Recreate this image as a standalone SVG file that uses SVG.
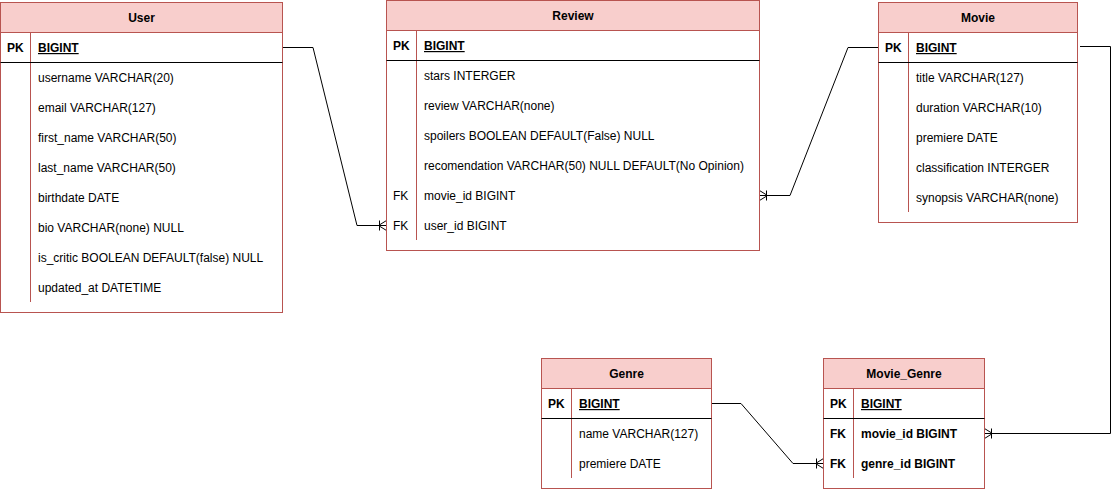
<svg xmlns="http://www.w3.org/2000/svg" width="1119" height="489" viewBox="0 0 1119 489">
<style>
.box{fill:#ffffff;stroke:#b85450;stroke-width:1}
.hdr{fill:#f8cecc;stroke:#b85450;stroke-width:1}
.div{stroke:#b85450;stroke-width:1;fill:none}
.sep{stroke:#000000;stroke-width:1;fill:none}
text{font-family:"Liberation Sans",Arial,sans-serif;font-size:12px;fill:#000000}
.t{font-weight:bold;text-anchor:middle}
.b{font-weight:bold}
.u{font-weight:bold;text-decoration:underline}
.conn{fill:none;stroke:#000000;stroke-width:1}
</style>
<defs>
<marker id="many" markerUnits="userSpaceOnUse" markerWidth="20" markerHeight="20" refX="10" refY="10" orient="auto" viewBox="0 0 20 20" overflow="visible">
<path d="M2,10 L10,5 M2,10 L10,15 M2,10 L10,10 M3,5 L3,15" fill="none" stroke="#000" stroke-width="1"/>
</marker>
</defs>
<rect width="1119" height="489" fill="#ffffff"/>
<g id="connectors">
<path class="conn" d="M282.5,47.5 L313,47.5 L357,225.5 L386.5,225.5" marker-end="url(#many)"/>
<path class="conn" d="M878.5,47.5 L848,47.5 L790,195.5 L759.5,195.5" marker-end="url(#many)"/>
<path class="conn" d="M1080,46.5 L1110.5,46.5 L1110.5,433.5 L984.5,433.5" marker-end="url(#many)"/>
<path class="conn" d="M711.5,403.5 L741,403.5 L793,463.5 L823.5,463.5" marker-end="url(#many)"/>
</g>
<g id="user">
<rect class="box" x="0.5" y="2.5" width="282" height="310"/>
<rect class="hdr" x="0.5" y="2.5" width="282" height="30"/>
<line class="div" x1="30.5" y1="32.5" x2="30.5" y2="302"/>
<line class="sep" x1="0.5" y1="62.5" x2="282.5" y2="62.5"/>
<text class="t" x="141.5" y="22">User</text>
<text class="b" x="7" y="52">PK</text>
<text class="u" x="38" y="52">BIGINT</text>
<text x="38" y="82">username VARCHAR(20)</text>
<text x="38" y="112">email VARCHAR(127)</text>
<text x="38" y="142">first_name VARCHAR(50)</text>
<text x="38" y="172">last_name VARCHAR(50)</text>
<text x="38" y="202">birthdate DATE</text>
<text x="38" y="232">bio VARCHAR(none) NULL</text>
<text x="38" y="262">is_critic BOOLEAN DEFAULT(false) NULL</text>
<text x="38" y="292">updated_at DATETIME</text>
</g>
<g id="review">
<rect class="box" x="386.5" y="0.5" width="373" height="250"/>
<rect class="hdr" x="386.5" y="0.5" width="373" height="30"/>
<line class="div" x1="416.5" y1="30.5" x2="416.5" y2="240"/>
<line class="sep" x1="386.5" y1="60.5" x2="759.5" y2="60.5"/>
<text class="t" x="573" y="20">Review</text>
<text class="b" x="393" y="50">PK</text>
<text class="u" x="424" y="50">BIGINT</text>
<text x="424" y="80">stars INTERGER</text>
<text x="424" y="110">review VARCHAR(none)</text>
<text x="424" y="140">spoilers BOOLEAN DEFAULT(False) NULL</text>
<text x="424" y="170">recomendation VARCHAR(50) NULL DEFAULT(No Opinion)</text>
<text x="393" y="200">FK</text>
<text x="424" y="200">movie_id BIGINT</text>
<text x="393" y="230">FK</text>
<text x="424" y="230">user_id BIGINT</text>
</g>
<g id="movie">
<rect class="box" x="878.5" y="2.5" width="199" height="220"/>
<rect class="hdr" x="878.5" y="2.5" width="199" height="30"/>
<line class="div" x1="908.5" y1="32.5" x2="908.5" y2="212"/>
<line class="sep" x1="878.5" y1="62.5" x2="1077.5" y2="62.5"/>
<text class="t" x="978" y="22">Movie</text>
<text class="b" x="885" y="52">PK</text>
<text class="u" x="916" y="52">BIGINT</text>
<text x="916" y="82">title VARCHAR(127)</text>
<text x="916" y="112">duration VARCHAR(10)</text>
<text x="916" y="142">premiere DATE</text>
<text x="916" y="172">classification INTERGER</text>
<text x="916" y="202">synopsis VARCHAR(none)</text>
</g>
<g id="genre">
<rect class="box" x="541.5" y="358.5" width="170" height="130"/>
<rect class="hdr" x="541.5" y="358.5" width="170" height="30"/>
<line class="div" x1="571.5" y1="388.5" x2="571.5" y2="478"/>
<line class="sep" x1="541.5" y1="418.5" x2="711.5" y2="418.5"/>
<text class="t" x="626.5" y="378">Genre</text>
<text class="b" x="548" y="408">PK</text>
<text class="u" x="579" y="408">BIGINT</text>
<text x="579" y="438">name VARCHAR(127)</text>
<text x="579" y="468">premiere DATE</text>
</g>
<g id="movie_genre">
<rect class="box" x="823.5" y="358.5" width="161" height="130"/>
<rect class="hdr" x="823.5" y="358.5" width="161" height="30"/>
<line class="div" x1="853.5" y1="388.5" x2="853.5" y2="478"/>
<line class="sep" x1="823.5" y1="418.5" x2="984.5" y2="418.5"/>
<text class="t" x="904" y="378">Movie_Genre</text>
<text class="b" x="830" y="408">PK</text>
<text class="u" x="861" y="408">BIGINT</text>
<text class="b" x="830" y="438">FK</text>
<text class="b" x="861" y="438">movie_id BIGINT</text>
<text class="b" x="830" y="468">FK</text>
<text class="b" x="861" y="468">genre_id BIGINT</text>
</g>
</svg>
